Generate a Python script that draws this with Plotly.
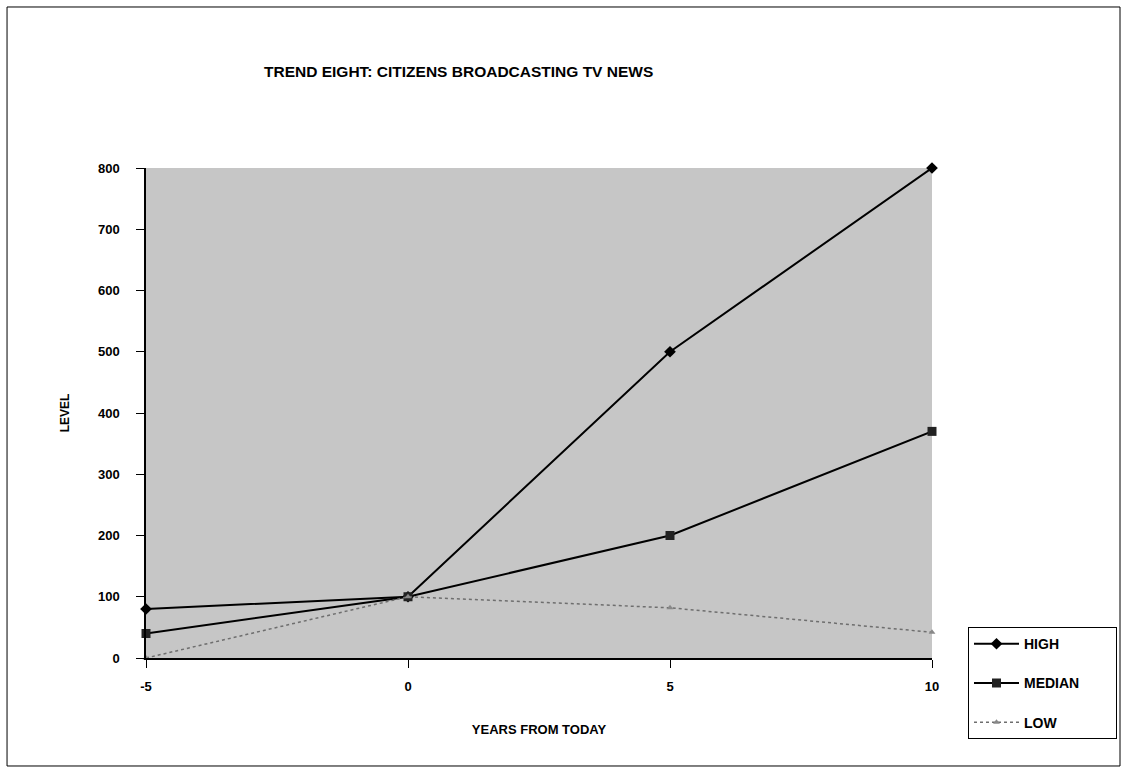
import plotly.graph_objects as go

years = [-5, 0, 5, 10]
high = [80, 100, 500, 800]
median = [40, 100, 200, 370]
low = [0, 100, 82, 42]
y_ticks = [0, 100, 200, 300, 400, 500, 600, 700, 800]

FONT = "Liberation Sans"
NB = "\u00a0"

fig = go.Figure()
fig.add_trace(go.Scatter(x=years, y=high, name="<b>HIGH</b>", mode="lines+markers",
                         line=dict(color="black", width=2),
                         marker=dict(symbol="diamond", size=9, color="black"),
                         cliponaxis=False, legendgroup="a"))
fig.add_trace(go.Scatter(x=years, y=median, name="<b>MEDIAN</b>" + NB * 8, mode="lines+markers",
                         line=dict(color="black", width=2),
                         marker=dict(symbol="square", size=9, color="#222"),
                         cliponaxis=False, legendgroup="b"))
fig.add_trace(go.Scatter(x=years, y=low, name="<b>LOW</b>", mode="lines+markers",
                         line=dict(color="#6e6e6e", width=1.5, dash="dot"),
                         marker=dict(symbol="triangle-up", size=6, color="#888"),
                         cliponaxis=False, legendgroup="c"))

fig.update_layout(
    width=1128, height=781,
    margin=dict(l=146, r=196, t=168, b=123, autoexpand=False),
    paper_bgcolor="white",
    plot_bgcolor="rgb(198,198,198)",
    font=dict(family=FONT, color="black", size=12),
    title=dict(text="<b>TREND EIGHT: CITIZENS BROADCASTING TV NEWS</b>",
               x=0.4066, xanchor="center", y=0.908, yanchor="middle",
               font=dict(family=FONT, size=15.5, color="black")),
    showlegend=True,
    legend=dict(x=1.0458, xanchor="left", y=0.063, yanchor="top",
                bordercolor="black", borderwidth=1, bgcolor="white",
                font=dict(family=FONT, size=14, color="black"),
                traceorder="grouped", tracegroupgap=18, itemwidth=45),
    shapes=[dict(type="rect", xref="paper", yref="paper",
                 x0=-0.1768, x1=1.2392, y0=-0.2204, y1=1.3286,
                 line=dict(color="black", width=1))],
)

fig.update_xaxes(range=[-5, 10], tickvals=years, ticktext=[f"<b>{v}</b>" for v in years],
                 showgrid=False, zeroline=False, showline=True, linecolor="black",
                 linewidth=1.5, ticks="outside", ticklen=8, tickcolor="black",
                 ticklabelstandoff=8,
                 tickfont=dict(family=FONT, size=13),
                 title=dict(text="<b>YEARS FROM TODAY</b>", standoff=32,
                            font=dict(family=FONT, size=13)))
fig.update_yaxes(range=[0, 800], tickvals=y_ticks, ticktext=[f"<b>{v}</b>" for v in y_ticks],
                 showgrid=False, zeroline=False, showline=True, linecolor="black",
                 linewidth=1.5, ticks="outside", ticklen=8, tickcolor="black",
                 ticklabelstandoff=14,
                 tickfont=dict(family=FONT, size=13),
                 title=dict(text="<b>LEVEL</b>", standoff=26,
                            font=dict(family=FONT, size=12)))

fig.write_html("out.html")
